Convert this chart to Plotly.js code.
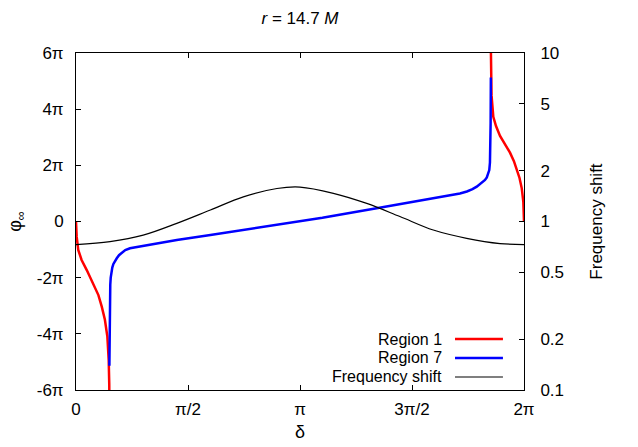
<!DOCTYPE html>
<html>
<head>
<meta charset="utf-8">
<script src="https://cdn.plot.ly/plotly-3.0.1.min.js"></script>
<style>html,body{margin:0;padding:0;background:#fff;}#chart{width:638px;height:447px;}</style>
</head>
<body>
<div id="chart"></div>
<script>
// x values (delta) and phi values in units of pi
var region1LeftX = [0, 0.003, 0.010, 0.025, 0.048, 0.077, 0.100, 0.115, 0.129, 0.140, 0.146, 0.1485, 0.1490];
var region1LeftY = [0, -0.54, -1.01, -1.37, -1.73, -2.20, -2.62, -3.03, -3.50, -4.10, -4.93, -5.80, -6.50];
var region1RightX = [1.8515, 1.852, 1.855, 1.863, 1.875, 1.893, 1.915, 1.9375, 1.955, 1.967, 1.980, 1.990, 1.997, 2.0];
var region1RightY = [6.50, 5.20, 4.50, 3.73, 3.40, 3.05, 2.75, 2.45, 2.15, 1.89, 1.55, 1.18, 0.70, 0];

var region7X = [0.149, 0.1495, 0.150, 0.151, 0.152, 0.153, 0.155, 0.158, 0.162, 0.167, 0.174, 0.182, 0.192, 0.205, 0.220, 0.241, 0.270, 0.300, 0.450, 0.600, 0.747, 0.900, 1.000, 1.100, 1.342, 1.500, 1.595, 1.650, 1.714, 1.745, 1.770, 1.789, 1.805, 1.818, 1.826, 1.834, 1.840, 1.845, 1.848, 1.850, 1.851, 1.852];
var region7Y = [-5.14, -4.50, -3.80, -3.00, -2.50, -2.25, -2.00, -1.80, -1.64, -1.51, -1.40, -1.31, -1.20, -1.10, -1.02, -0.954, -0.91, -0.87, -0.658, -0.48, -0.30, -0.12, 0, 0.13, 0.47, 0.69, 0.83, 0.91, 1.00, 1.07, 1.15, 1.24, 1.33, 1.42, 1.48, 1.57, 1.70, 1.83, 2.10, 2.60, 3.50, 5.13];

var shiftX = [0, 0.152, 0.300, 0.450, 0.600, 0.747, 0.897, 1.000, 1.149, 1.298, 1.446, 1.595, 1.744, 1.893, 2.0];
var shiftY = [0.73, 0.76, 0.83, 0.975, 1.17, 1.40, 1.57, 1.60, 1.47, 1.28, 1.07, 0.89, 0.795, 0.74, 0.73];

var xTickVals = [0, 0.5, 1, 1.5, 2];
var xTickText = ['0', 'π/2', 'π', '3π/2', '2π'];
var yTickVals = [-6, -4, -2, 0, 2, 4, 6];
var yTickText = ['-6π', '-4π', '-2π', '0', '2π', '4π', '6π'];
var y2TickVals = [0.1, 0.2, 0.5, 1, 2, 5, 10];
var y2TickText = ['0.1', '0.2', '0.5', '1', '2', '5', '10'];

var seriesNames = ['Region 1', 'Region 7', 'Frequency shift'];
var seriesColors = ['#ff0000', '#0000ff', '#000000'];
var seriesWidths = [2.5, 2.5, 1.2];

var r1x = region1LeftX.concat([null], region1RightX);
var r1y = region1LeftY.concat([null], region1RightY);

var FAM = 'Liberation Sans, Arial, sans-serif';
var FS = 17;
var font = {family: FAM, size: FS, color: '#000'};
var legFont = {family: FAM, size: 16, color: '#000'};

var traces = [
  {x: r1x, y: r1y, type: 'scatter', mode: 'lines', name: seriesNames[0],
   line: {color: seriesColors[0], width: seriesWidths[0]}, connectgaps: false},
  {x: region7X, y: region7Y, type: 'scatter', mode: 'lines', name: seriesNames[1],
   line: {color: seriesColors[1], width: seriesWidths[1]}},
  {x: shiftX, y: shiftY, type: 'scatter', mode: 'lines', name: seriesNames[2],
   yaxis: 'y2', line: {color: seriesColors[2], width: seriesWidths[2], shape: 'spline', smoothing: 1}}
];

// legend drawn gnuplot-style: right-aligned text with line sample to its right
var legRowY = [0.1513, 0.0950, 0.0386];
var annotations = [];
var shapes = [];
for (var i = 0; i < seriesNames.length; i++) {
  annotations.push({text: seriesNames[i], xref: 'paper', yref: 'paper', x: 0.819, y: legRowY[i],
    xanchor: 'right', yanchor: 'middle', showarrow: false, font: legFont, borderpad: 0});
  shapes.push({type: 'line', xref: 'paper', yref: 'paper', x0: 0.846, x1: 0.953, y0: legRowY[i], y1: legRowY[i],
    line: {color: seriesColors[i], width: seriesWidths[i]}});
}

var layout = {
  width: 638, height: 447,
  margin: {l: 76, r: 114, t: 53, b: 57, pad: 0},
  paper_bgcolor: '#fff', plot_bgcolor: '#fff',
  font: font,
  title: {text: '<i>r</i> = 14.7 <i>M</i>', x: 0.5, xref: 'paper', xanchor: 'center',
          y: 1 - 18/447, yref: 'container', yanchor: 'middle', font: font},
  showlegend: false,
  annotations: annotations,
  shapes: shapes,
  xaxis: {range: [0, 2], tickvals: xTickVals, ticktext: xTickText, ticks: 'inside', ticklen: 5,
          tickcolor: '#000', showline: true, linecolor: '#000', linewidth: 1, mirror: 'ticks',
          showgrid: false, zeroline: false, ticklabelstandoff: 4, tickfont: font,
          title: {text: 'δ', font: {family: FAM, size: 18, color: '#000'}, standoff: 6}},
  yaxis: {range: [-6, 6], tickvals: yTickVals, ticktext: yTickText, ticks: 'inside', ticklen: 5,
          tickcolor: '#000', showline: true, linecolor: '#000', linewidth: 1, mirror: true,
          showgrid: false, zeroline: false, ticklabelstandoff: 8, tickfont: font,
          title: {text: 'φ<sub>∞</sub>', font: {family: FAM, size: 18, color: '#000'}, standoff: 10}},
  yaxis2: {type: 'log', range: [-1, 1], overlaying: 'y', side: 'right', anchor: 'x',
           tickvals: y2TickVals, ticktext: y2TickText, ticks: 'inside', ticklen: 5, tickcolor: '#000',
           showline: true, linecolor: '#000', linewidth: 1, showgrid: false, zeroline: false,
           ticklabelstandoff: 12, tickfont: font,
           title: {text: 'Frequency shift', font: font, standoff: 27}}
};

Plotly.newPlot('chart', traces, layout, {displayModeBar: false, staticPlot: true});
</script>
</body>
</html>
